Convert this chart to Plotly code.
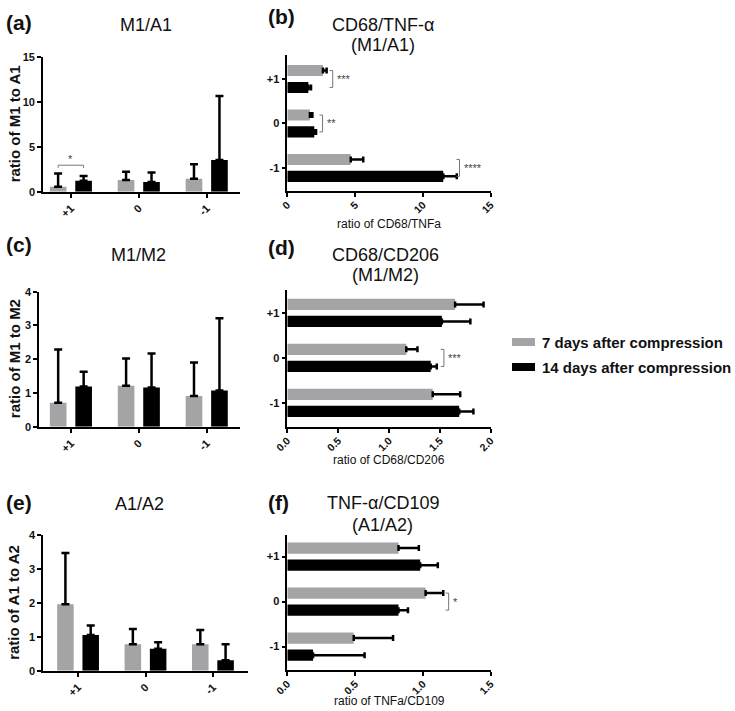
import plotly.graph_objects as go

W, H = 735, 711

cats = ['+1', '0', '-1']
series = ['7 days after compression', '14 days after compression']
colors = ['#a4a4a7', '#000000']

# (a) M1/A1  [7 days, 14 days]
a_mean = [[0.56, 1.30, 1.44], [1.22, 1.07, 3.52]]
a_top = [[2.04, 2.22, 3.07], [1.74, 2.15, 10.67]]
# (c) M1/M2
c_mean = [[0.71, 1.21, 0.91], [1.19, 1.16, 1.07]]
c_top = [[2.29, 2.02, 1.90], [1.63, 2.17, 3.21]]
# (e) A1/A2
e_mean = [[1.96, 0.78, 0.78], [1.05, 0.65, 0.31]]
e_top = [[3.47, 1.23, 1.20], [1.33, 0.84, 0.78]]
# (b) CD68/TNF-a
b_mean = [[2.63, 1.67, 4.68], [1.55, 1.99, 11.5]]
b_top = [[2.90, 1.85, 5.60], [1.75, 2.12, 12.5]]
# (d) CD68/CD206
d_mean = [[1.65, 1.17, 1.43], [1.52, 1.41, 1.69]]
d_top = [[1.93, 1.28, 1.70], [1.80, 1.47, 1.83]]
# (f) TNF-a/CD109
f_mean = [[0.82, 1.02, 0.49], [0.98, 0.82, 0.19]]
f_top = [[0.97, 1.15, 0.78], [1.11, 0.89, 0.57]]

# significance: (category, label, level)
a_sig = [('+1', '*', 2.95)]
b_sig = [('+1', '***', 3.35), ('0', '**', 2.6), ('-1', '****', 12.7)]
d_sig = [('0', '***', 1.54)]
f_sig = [('0', '*', 1.19)]

FONT = 'Liberation Sans, Arial, sans-serif'


def xdom(x0, x1):
    return [x0 / W, x1 / W]


def ydom(y0, y1):
    return [1 - y1 / H, 1 - y0 / H]


fig = go.Figure()
shapes = []
annots = []

VW, VOFF = 0.245, [-0.31, 0.065]      # vertical bars
HW, HOFF = 0.25, [0.065, -0.315]      # horizontal bars

vpanels = [
    dict(n=1, mean=a_mean, top=a_top, sig=a_sig, xpx=(43, 240), ypx=(57, 191.7),
         yr=[0, 15], dt=5, xr=[-0.41, 2.49], ytitle='ratio of M1 to A1'),
    dict(n=3, mean=c_mean, top=c_top, sig=[], xpx=(39, 240), ypx=(291.7, 426.7),
         yr=[0, 4], dt=1, xr=[-0.47, 2.49], ytitle='ratio of M1 to M2'),
    dict(n=5, mean=e_mean, top=e_top, sig=[], xpx=(43, 248), ypx=(535, 670.7),
         yr=[0, 4], dt=1, xr=[-0.52, 2.52], ytitle='ratio of A1 to A2'),
]
hcats = ['-1', '0', '+1']
hpanels = [
    dict(n=2, mean=b_mean, top=b_top, sig=b_sig, xpx=(287.3, 490.7), ypx=(55, 191),
         xr=[0, 15], dt=5, fmt='', yr=[-0.52, 2.54], xtitle='ratio of CD68/TNFa', tgap=33),
    dict(n=4, mean=d_mean, top=d_top, sig=d_sig, xpx=(287.3, 490.7), ypx=(290, 426.7),
         xr=[0, 2], dt=0.5, fmt='.1f', yr=[-0.53, 2.51], xtitle='ratio of CD68/CD206', tgap=33),
    dict(n=6, mean=f_mean, top=f_top, sig=f_sig, xpx=(287.3, 490.7), ypx=(535, 670),
         xr=[0, 1.5], dt=0.5, fmt='.1f', yr=[-0.52, 2.48], xtitle='ratio of TNFa/CD109', tgap=31),
]

tickfont = dict(family=FONT, size=11, color='#111', weight='bold')
axline = dict(showline=True, linecolor='black', linewidth=1.6, ticks='outside',
              ticklen=4, tickwidth=1.5, tickcolor='black', showgrid=False,
              zeroline=False, automargin=False)

for p in vpanels:
    n = p['n']
    xa, ya = f'x{n}', f'y{n}'
    for s in range(2):
        fig.add_trace(go.Bar(
            x=cats, y=p['mean'][s], name=series[s], showlegend=False,
            marker=dict(color=colors[s], line=dict(width=0)),
            width=VW, offset=VOFF[s], xaxis=xa, yaxis=ya,
            error_y=dict(type='data', symmetric=False,
                         array=[t - m for t, m in zip(p['top'][s], p['mean'][s])],
                         arrayminus=[0] * 3, color='black', thickness=2.5, width=4)))
    fig.layout[f'xaxis{n}'] = dict(domain=xdom(*p['xpx']), range=p['xr'], anchor=ya,
                                   type='category', categoryorder='array',
                                   categoryarray=cats, tickangle=-45,
                                   tickfont=tickfont, **axline)
    fig.layout[f'yaxis{n}'] = dict(domain=ydom(*p['ypx']), range=p['yr'], dtick=p['dt'],
                                   anchor=xa, tickfont=tickfont, **axline)
    annots.append(dict(text=p['ytitle'], xref='paper', yref='paper', x=14 / W,
                       y=1 - (p['ypx'][0] + p['ypx'][1]) / 2 / H, textangle=-90,
                       xanchor='center', yanchor='middle', showarrow=False,
                       font=dict(family=FONT, size=15, color='#111', weight='bold')))
    for cat, lab, lev in p['sig']:
        i = cats.index(cat)
        g = i + VOFF[0] + VW / 2
        k = i + VOFF[1] + VW / 2
        dy = (p['yr'][1] - p['yr'][0]) * 0.02
        shapes.append(dict(type='path', xref=xa, yref=ya,
                           path=f'M {g},{lev - dy} L {g},{lev} L {k},{lev} L {k},{lev - dy}',
                           line=dict(color='#777', width=1)))
        annots.append(dict(text=lab, xref=xa, yref=ya, x=(g + k) / 2, y=lev,
                           xanchor='center', yanchor='bottom', showarrow=False, yshift=-2,
                           font=dict(family=FONT, size=11, color='#444')))

for p in hpanels:
    n = p['n']
    xa, ya = f'x{n}', f'y{n}'
    for s in range(2):
        fig.add_trace(go.Bar(
            y=cats, x=p['mean'][s], name=series[s], showlegend=False, orientation='h',
            marker=dict(color=colors[s], line=dict(width=0)),
            width=HW, offset=HOFF[s], xaxis=xa, yaxis=ya,
            error_x=dict(type='data', symmetric=False,
                         array=[t - m for t, m in zip(p['top'][s], p['mean'][s])],
                         arrayminus=[0] * 3, color='black', thickness=2.5, width=3)))
    fig.layout[f'xaxis{n}'] = dict(domain=xdom(*p['xpx']), range=p['xr'], dtick=p['dt'],
                                   tickformat=p['fmt'], anchor=ya, tickangle=-45,
                                   ticklabelstandoff=-2,
                                   tickfont=dict(tickfont, size=10.5), **axline)
    fig.layout[f'yaxis{n}'] = dict(domain=ydom(*p['ypx']), range=p['yr'], anchor=xa,
                                   type='category', categoryorder='array',
                                   categoryarray=hcats, tickfont=tickfont, **axline)
    annots.append(dict(text=p['xtitle'], xref='paper', yref='paper',
                       x=(p['xpx'][0] + p['xpx'][1]) / 2 / W,
                       y=1 - (p['ypx'][1] + p['tgap']) / H, xanchor='center', yanchor='middle',
                       showarrow=False, font=dict(family=FONT, size=12, color='#111')))
    for cat, lab, lev in p['sig']:
        i = hcats.index(cat)
        g = i + HOFF[0] + HW / 2
        k = i + HOFF[1] + HW / 2
        dx = (p['xr'][1] - p['xr'][0]) * 0.015
        shapes.append(dict(type='path', xref=xa, yref=ya,
                           path=f'M {lev - dx},{g} L {lev},{g} L {lev},{k} L {lev - dx},{k}',
                           line=dict(color='#777', width=1)))
        annots.append(dict(text=lab, xref=xa, yref=ya, x=lev, y=(g + k) / 2,
                           xanchor='left', yanchor='middle', showarrow=False, xshift=2,
                           font=dict(family=FONT, size=11, color='#444')))

# panel letters and titles (pixel positions)
letters = [('(a)', 4, 22), ('(b)', 266, 17), ('(c)', 4, 245), ('(d)', 266, 247),
           ('(e)', 4, 502), ('(f)', 266, 502)]
for t, x, y in letters:
    annots.append(dict(text=t, xref='paper', yref='paper', x=x / W, y=1 - y / H,
                       xanchor='left', yanchor='middle', showarrow=False,
                       font=dict(family=FONT, size=21, color='#111', weight='bold')))
titles = [('M1/A1', 146, 25), ('CD68/TNF-α', 383, 25), ('(M1/A1)', 383, 45),
          ('M1/M2', 138, 255), ('CD68/CD206', 385, 255), ('(M1/M2)', 385, 275),
          ('A1/A2', 139, 504), ('TNF-α/CD109', 383, 503), ('(A1/A2)', 383, 525)]
for t, x, y in titles:
    annots.append(dict(text=t, xref='paper', yref='paper', x=x / W, y=1 - y / H,
                       xanchor='center', yanchor='middle', showarrow=False,
                       font=dict(family=FONT, size=18, color='#111')))

# legend
for s, yc in zip(range(2), (342, 367)):
    shapes.append(dict(type='rect', xref='paper', yref='paper', x0=512 / W, x1=535 / W,
                       y0=1 - (yc + 4) / H, y1=1 - (yc - 4) / H,
                       fillcolor=colors[s], line=dict(width=0)))
    annots.append(dict(text=series[s], xref='paper', yref='paper', x=540 / W,
                       y=1 - yc / H, xanchor='left', yanchor='middle', showarrow=False,
                       font=dict(family=FONT, size=15, color='#111', weight='bold')))

fig.update_layout(width=W, height=H, margin=dict(l=0, r=0, t=0, b=0),
                  paper_bgcolor='white', plot_bgcolor='white', barmode='overlay',
                  shapes=shapes, annotations=annots, showlegend=False)

fig.write_html('out.html', config={'displayModeBar': False},
               post_script="document.body.style.margin='0';document.body.style.overflow='hidden';")
